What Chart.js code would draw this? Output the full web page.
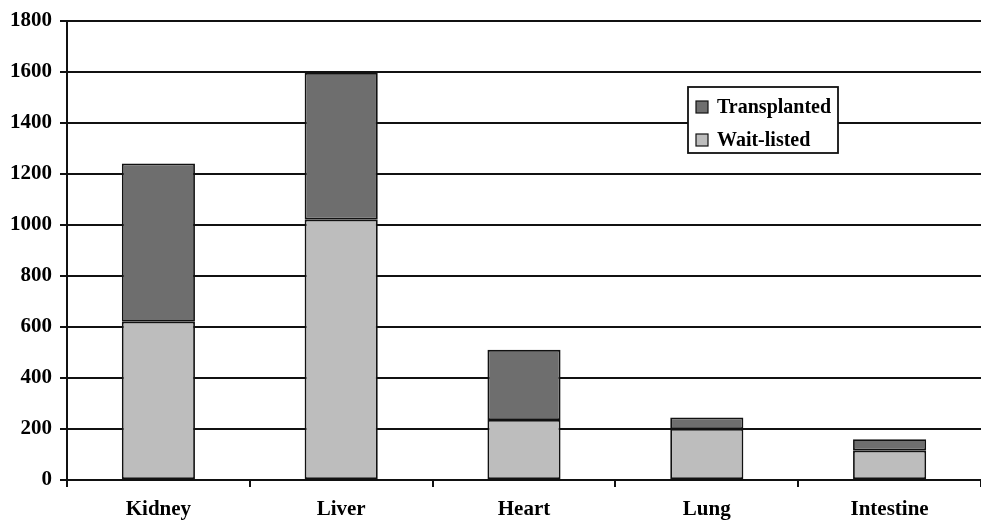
<!DOCTYPE html>
<html>
<head>
<meta charset="utf-8">
<script src="https://cdn.jsdelivr.net/npm/chart.js@4"></script>
<style>
  html, body { margin: 0; padding: 0; background: #fff; }
  #wrap { width: 981px; height: 525px; position: relative; }
</style>
</head>
<body>
<div id="wrap"><canvas id="organChart"></canvas></div>
<script>
// organ categories and counts
const ORGANS = ['Kidney', 'Liver', 'Heart', 'Lung', 'Intestine'];
const WAIT_LISTED = [620, 1020, 235, 200, 115];
const TRANSPLANTED = [620, 575, 275, 45, 45];
const Y_TICKS = [0, 200, 400, 600, 800, 1000, 1200, 1400, 1600, 1800];

const DARK_GRAY = '#6e6e6e';
const LIGHT_GRAY = '#bdbdbd';
const LINE_COLOR = '#111';
const TICK_FONT = { family: 'Liberation Serif', size: 21, weight: 'bold' };

// legend box drawn inside the plot, like the original
const boxLegend = {
    id: 'boxLegend',
    afterDraw(chart) {
        const ctx = chart.ctx;
        const x = 688, y = 87, w = 150, h = 66;
        ctx.save();
        ctx.fillStyle = '#fff';
        ctx.fillRect(x, y, w, h);
        ctx.strokeStyle = LINE_COLOR;
        ctx.lineWidth = 1.8;
        ctx.strokeRect(x, y, w, h);
        const items = [
            { label: 'Transplanted', color: DARK_GRAY },
            { label: 'Wait-listed', color: LIGHT_GRAY }
        ];
        ctx.font = 'bold 20px "Liberation Serif"';
        ctx.textBaseline = 'middle';
        items.forEach((it, i) => {
            const cy = y + 20 + i * 33;
            ctx.fillStyle = it.color;
            ctx.fillRect(x + 8, cy - 6, 12, 12);
            ctx.lineWidth = 1.2;
            ctx.strokeRect(x + 8, cy - 6, 12, 12);
            ctx.fillStyle = '#000';
            ctx.fillText(it.label, x + 29, cy + 1);
        });
        ctx.restore();
    }
};

const barStyle = {
    borderColor: LINE_COLOR,
    borderWidth: 1.8,
    borderSkipped: false,
    categoryPercentage: 1,
    barPercentage: 0.4
};

const ctx = document.getElementById('organChart').getContext('2d');
new Chart(ctx, {
    type: 'bar',
    data: {
        labels: ORGANS,
        datasets: [
            Object.assign({ label: 'Wait-listed', data: WAIT_LISTED, backgroundColor: LIGHT_GRAY }, barStyle),
            Object.assign({ label: 'Transplanted', data: TRANSPLANTED, backgroundColor: DARK_GRAY }, barStyle)
        ]
    },
    options: {
        responsive: true,
        maintainAspectRatio: false,
        animation: false,
        layout: { padding: { top: 19, right: 0, left: 0, bottom: 0 } },
        plugins: {
            legend: { display: false },
            tooltip: { enabled: false }
        },
        scales: {
            x: {
                stacked: true,
                border: { display: true, color: LINE_COLOR, width: 2 },
                grid: {
                    offset: true,
                    drawOnChartArea: false,
                    drawTicks: true,
                    tickLength: 7,
                    color: LINE_COLOR,
                    lineWidth: 2
                },
                ticks: { color: '#000', font: TICK_FONT, padding: 10, maxRotation: 0 },
                afterFit: scale => { scale.height = 45; }
            },
            y: {
                stacked: true,
                min: 0,
                max: 1800,
                afterBuildTicks: scale => { scale.ticks = Y_TICKS.map(v => ({ value: v })); },
                border: { display: true, color: LINE_COLOR, width: 2 },
                grid: {
                    color: LINE_COLOR,
                    lineWidth: 2,
                    drawTicks: true,
                    tickLength: 7
                },
                ticks: { color: '#000', font: TICK_FONT, padding: 8, callback: v => String(v) },
                afterFit: scale => { scale.width = 67; }
            }
        }
    },
    plugins: [boxLegend]
});
</script>
</body>
</html>
